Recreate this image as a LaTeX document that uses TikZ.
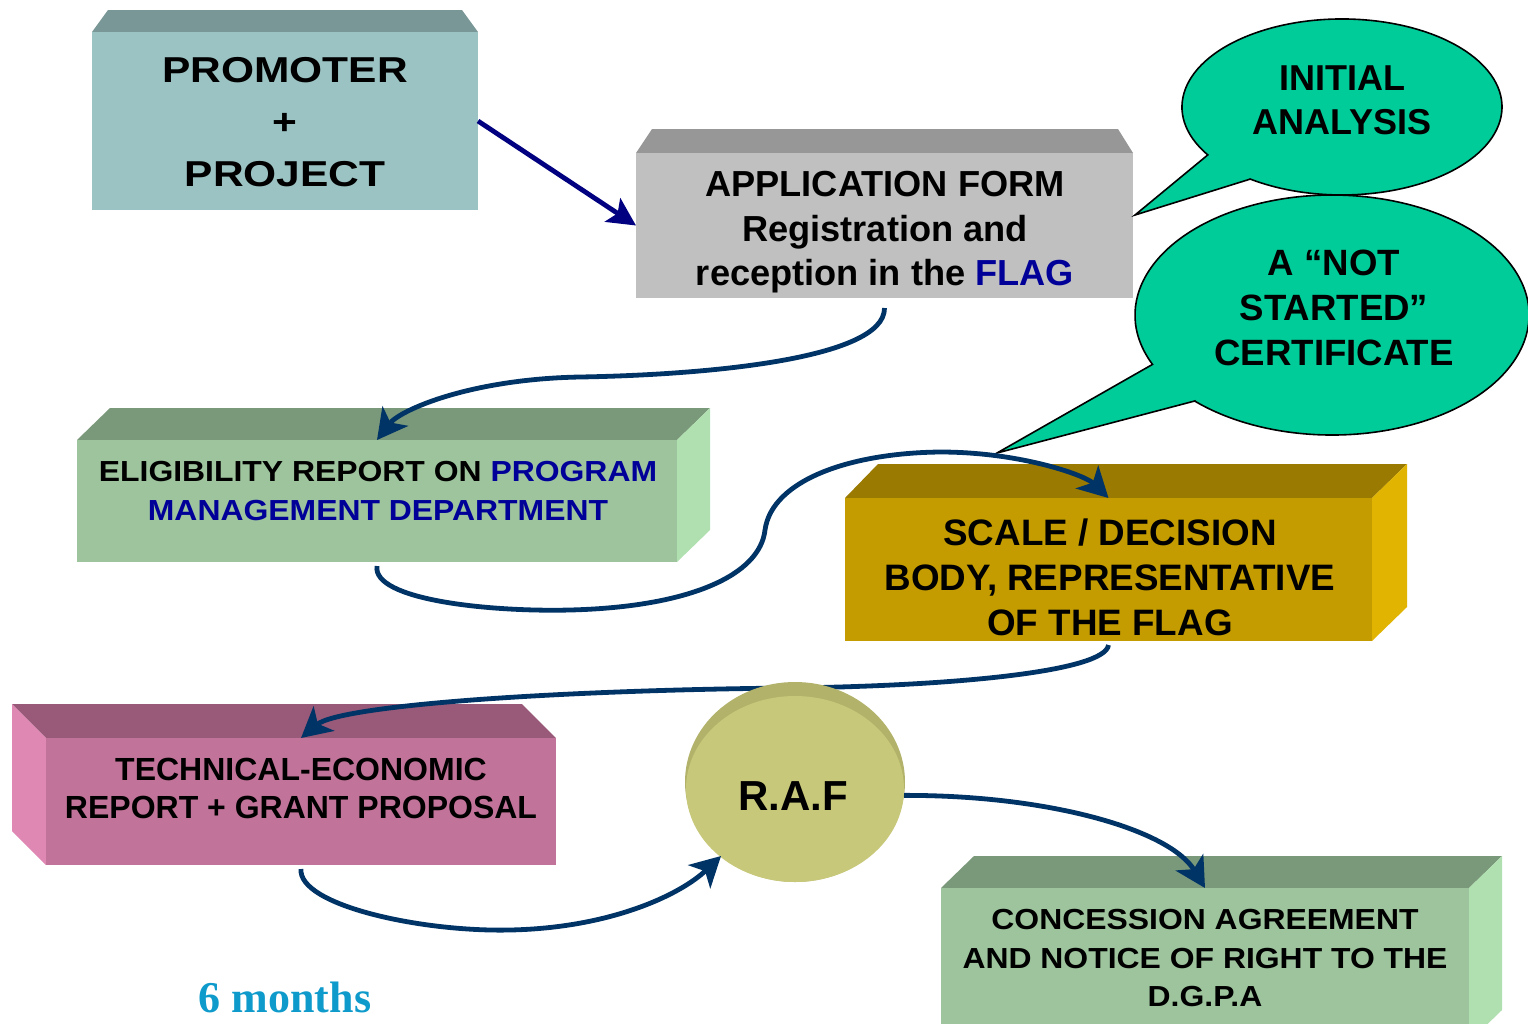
\documentclass[tikz,border=0pt]{standalone}
\usepackage{fontspec}
\setmainfont{Liberation Sans}
\newfontfamily\fwide{Liberation Sans}[FakeStretch=1.18]
\newfontfamily\fmid{Liberation Sans}[FakeStretch=1.1]
\newfontfamily\fser{Liberation Serif}
\usetikzlibrary{arrows.meta,shapes.geometric}
\definecolor{promfront}{HTML}{9CC3C3}
\definecolor{promtop}{HTML}{7A9797}
\definecolor{appfront}{HTML}{C0C0C0}
\definecolor{apptop}{HTML}{979797}
\definecolor{greenfront}{HTML}{9DC49D}
\definecolor{greentop}{HTML}{7A987A}
\definecolor{greenside}{HTML}{B0E0B0}
\definecolor{goldfront}{HTML}{C49C00}
\definecolor{goldtop}{HTML}{9A7A00}
\definecolor{goldside}{HTML}{E0B400}
\definecolor{pinkfront}{HTML}{C27399}
\definecolor{pinktop}{HTML}{985A78}
\definecolor{pinkside}{HTML}{E088B4}
\definecolor{calloutfill}{HTML}{00CC99}
\definecolor{rafmain}{HTML}{C8C87A}
\definecolor{rafrim}{HTML}{B2B26A}
\definecolor{navyline}{HTML}{000080}
\definecolor{linkblue}{HTML}{003366}
\definecolor{flagblue}{HTML}{000099}
\definecolor{monthblue}{HTML}{0E9BCB}
\begin{document}
\begin{tikzpicture}[x=0.5pt,y=-0.5pt,
  box/.style={draw=none, inner sep=0pt, outer sep=0pt},
  txt/.style={align=center, inner sep=0pt},
  callout/.style={fill=calloutfill, draw=black, line width=0.8pt},
  link/.style={draw=linkblue, line width=2.4pt, -{Stealth[length=15pt,width=16pt,inset=4pt]}},
  navyarrow/.style={draw=navyline, line width=2.4pt, -{Stealth[length=14pt,width=14pt,inset=3pt]}}]
\useasboundingbox (0,0) rectangle (1528,1024);
\clip (0,0) rectangle (1528,1024);
\fill[white] (0,0) rectangle (1528,1024);

% PROMOTER + PROJECT
\fill[promtop] (92,32) -- (108,10) -- (462,10) -- (478,32) -- cycle;
\node[box, fill=promfront, minimum width=193pt, minimum height=89pt] (prom) at (285,121) {};
\node[txt, font=\fontsize{18}{26}\selectfont\fwide\bfseries] (promt) at (285,122.5) {PROMOTER\\+\\PROJECT};

% APPLICATION FORM
\fill[apptop] (636,153) -- (652,129) -- (1118,129) -- (1133,153) -- cycle;
\node[box, fill=appfront, minimum width=248.5pt, minimum height=72.5pt] (app) at (884.5,225.5) {};
\node[txt, font=\fontsize{18.1}{22.25}\selectfont\bfseries] (appt) at (885,232.5) {APPLICATION FORM\\Registration and\\reception in the \textcolor{flagblue}{FLAG}};

% ELIGIBILITY
\fill[greentop] (77,440) -- (110,408) -- (710,408) -- (677,440) -- cycle;
\fill[greenside] (677,440) -- (710,408) -- (710,530) -- (677,562) -- cycle;
\node[box, fill=greenfront, minimum width=300pt, minimum height=61pt] (elig) at (377,501) {};
\node[txt, font=\fontsize{14.5}{19.5}\selectfont\fmid\bfseries] (eligt) at (378,491.5) {ELIGIBILITY REPORT ON \textcolor{flagblue}{PROGRAM}\\\textcolor{flagblue}{MANAGEMENT DEPARTMENT}};

% SCALE / DECISION
\fill[goldtop] (845,498) -- (878,464) -- (1407,464) -- (1372,498) -- cycle;
\fill[goldside] (1372,498) -- (1407,464) -- (1407,607) -- (1372,641) -- cycle;
\node[box, fill=goldfront, minimum width=263.5pt, minimum height=71.5pt] (scale) at (1108.5,569.5) {};
\node[txt, font=\fontsize{18.4}{22.5}\selectfont\bfseries] (scalet) at (1110,577) {SCALE / DECISION\\BODY, REPRESENTATIVE\\OF THE FLAG};

% TECHNICAL-ECONOMIC
\fill[pinktop] (12,704) -- (522,704) -- (556,738) -- (46,738) -- cycle;
\fill[pinkside] (12,704) -- (46,738) -- (46,865) -- (12,831) -- cycle;
\node[box, fill=pinkfront, minimum width=255pt, minimum height=63.5pt] (tech) at (301,801.5) {};
\node[txt, font=\fontsize{16}{19}\selectfont\bfseries] (techt) at (301,788) {TECHNICAL-ECONOMIC\\REPORT + GRANT PROPOSAL};

% CONCESSION AGREEMENT
\fill[greentop] (941,888) -- (974,856) -- (1502,856) -- (1469,888) -- cycle;
\fill[greenside] (1469,888) -- (1502,856) -- (1502,1010) -- (1469,1042) -- cycle;
\node[box, fill=greenfront, minimum width=264pt, minimum height=76pt] (conc) at (1205,964) {};
\node[txt, font=\fontsize{14.5}{19.25}\selectfont\fmid\bfseries] (conct) at (1205,958.5) {CONCESSION AGREEMENT\\AND NOTICE OF RIGHT TO THE\\D.G.P.A};

% Callouts
\filldraw[callout] (1250.2,179.1) -- (1135,215) -- (1207.8,154.9) arc[start angle=147, end angle=485, x radius=160, y radius=88] -- cycle;
\node[txt, font=\fontsize{18}{22}\selectfont\bfseries] (init) at (1342,100) {INITIAL\\ANALYSIS};
\filldraw[callout] (1194.7,401) -- (997,453) -- (1152.5,364.4) arc[start angle=155.7, end angle=494.2, x radius=197, y radius=120] -- cycle;
\node[txt, font=\fontsize{18.3}{22.5}\selectfont\bfseries] (nots) at (1334,308) {A “NOT\\STARTED”\\CERTIFICATE};

% Connectors
\draw[navyarrow] (prom.east) -- (app.west);
\draw[link] ([yshift=-5pt]app.south) .. controls (885,360) and (700,375) .. (580,377) .. controls (470,379) and (400,410) .. (elig.north);
\draw[link] ([yshift=-2pt]elig.south) .. controls (372,600) and (490,612) .. (570,610) .. controls (690,607) and (760,575) .. (765,530) .. controls (772,480) and (850,453) .. (940,452) .. controls (1020,452) and (1085,475) .. (scale.north);
\draw[link] ([yshift=-2pt]scale.south) .. controls (1105,672) and (950,686) .. (790,688) .. controls (560,690) and (340,705) .. (tech.north);

% R.A.F coin
\node[ellipse, box, fill=rafrim, minimum width=110pt, minimum height=100pt] (raf) at (795,782) {};
\fill[rafmain] (795,789) ellipse[x radius=109, y radius=93];
\node[txt, font=\fontsize{21}{25}\selectfont\bfseries] (raft) at (793,796) {R.A.F};

\draw[link] ([yshift=-2pt]tech.south) .. controls (298,905) and (420,932) .. (510,930) .. controls (610,928) and (680,895) .. (raf.225);
\draw[link] (raf.-7) .. controls (1050,795) and (1170,830) .. (conc.north);

% 6 months
\node[txt, font=\fontsize{22}{26}\selectfont\fser\bfseries, text=monthblue] (months) at (285,997) {6 months};
\end{tikzpicture}
\end{document}
